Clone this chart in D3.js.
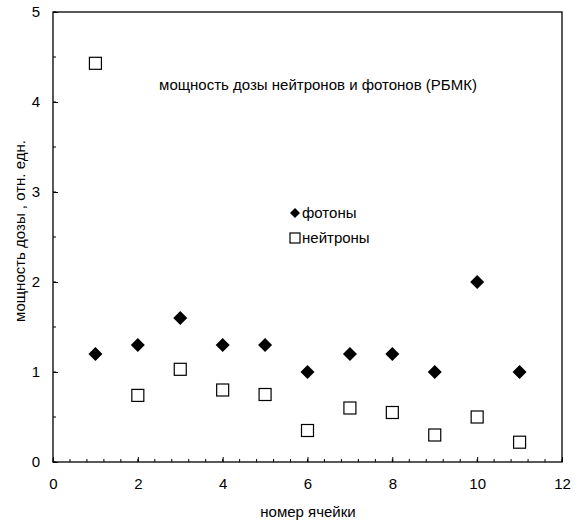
<!DOCTYPE html>
<html>
<head>
<meta charset="utf-8">
<script src="https://cdn.jsdelivr.net/npm/d3@7"></script>
<style>
body { margin: 0; background: #fff; }
svg { font-family: 'Liberation Sans', Arial, sans-serif; }
</style>
</head>
<body>
<svg id="svg1" width="576" height="523"></svg>
<script>
var cells = [1, 2, 3, 4, 5, 6, 7, 8, 9, 10, 11];
var photons = [1.2, 1.3, 1.6, 1.3, 1.3, 1.0, 1.2, 1.2, 1.0, 2.0, 1.0];
var neutrons = [4.43, 0.74, 1.03, 0.80, 0.75, 0.35, 0.60, 0.55, 0.30, 0.50, 0.22];
var xTicks = [0, 2, 4, 6, 8, 10, 12];
var yTicks = [0, 1, 2, 3, 4, 5];

var marginLeft = 53;
var marginTop = 12;
var plotW = 509;
var plotH = 450;

var svg = d3.select('#svg1');

var x = d3.scaleLinear().domain([0, 12]).range([marginLeft, marginLeft + plotW]);
var y = d3.scaleLinear().domain([0, 5]).range([marginTop + plotH, marginTop]);

// frame
svg.append('rect')
    .attr('x', marginLeft)
    .attr('y', marginTop)
    .attr('width', plotW)
    .attr('height', plotH)
    .attr('fill', 'none')
    .attr('stroke', '#000')
    .attr('stroke-width', 1.3);

// minor ticks x (every 0.4)
var xMinor = d3.range(0, 12.01, 0.4);
svg.selectAll('.xminor')
    .data(xMinor)
    .enter()
    .append('line')
    .attr('x1', function(d){ return x(d); })
    .attr('x2', function(d){ return x(d); })
    .attr('y1', y(0))
    .attr('y2', y(0) - 3)
    .attr('stroke', '#000');

// x axis
var xAxis = d3.axisBottom(x).tickValues(xTicks).tickSize(-5).tickPadding(16).tickFormat(d3.format('d'));
svg.append('g')
    .attr('transform', 'translate(0,' + y(0) + ')')
    .call(xAxis)
    .call(function(g){
        g.select('.domain').remove();
        g.attr('font-size', null).attr('font-family', null);
        g.selectAll('text').style('font-size', '15px');
    });

// minor ticks y (every 0.5)
var yMinor = d3.range(0, 5.01, 0.5);
svg.selectAll('.yminor')
    .data(yMinor)
    .enter()
    .append('line')
    .attr('x1', x(0))
    .attr('x2', x(0) + 3)
    .attr('y1', function(d){ return y(d); })
    .attr('y2', function(d){ return y(d); })
    .attr('stroke', '#000');

var yAxis = d3.axisLeft(y).tickValues(yTicks).tickSize(-5).tickPadding(13).tickFormat(d3.format('d'));
svg.append('g')
    .attr('transform', 'translate(' + x(0) + ',0)')
    .call(yAxis)
    .call(function(g){
        g.select('.domain').remove();
        g.attr('font-size', null).attr('font-family', null);
        g.selectAll('text').style('font-size', '15px');
    });

// neutrons (squares)
svg.selectAll('.neut')
    .data(cells)
    .enter()
    .append('rect')
    .attr('x', function(d, i){ return x(d) - 6; })
    .attr('y', function(d, i){ return y(neutrons[i]) - 6; })
    .attr('width', 12)
    .attr('height', 12)
    .attr('fill', '#fff')
    .attr('stroke', '#000')
    .attr('stroke-width', 1.2);

// photons (diamonds)
var diamond = 'M0,-7L7,0L0,7L-7,0Z';
svg.selectAll('.phot')
    .data(cells)
    .enter()
    .append('path')
    .attr('d', diamond)
    .attr('transform', function(d, i){ return 'translate(' + x(d) + ',' + y(photons[i]) + ')'; })
    .attr('fill', '#000');

// title
svg.append('text')
    .attr('x', 318)
    .attr('y', 90)
    .attr('text-anchor', 'middle')
    .style('font-size', '15px')
    .text('мощность дозы нейтронов и фотонов (РБМК)');

// legend
svg.append('path')
    .attr('d', 'M0,-5L5,0L0,5L-5,0Z')
    .attr('transform', 'translate(295,213)')
    .attr('fill', '#000');
svg.append('text')
    .attr('x', 302)
    .attr('y', 218)
    .style('font-size', '15px')
    .text('фотоны');
svg.append('rect')
    .attr('x', 290)
    .attr('y', 233)
    .attr('width', 10)
    .attr('height', 10)
    .attr('fill', '#fff')
    .attr('stroke', '#000')
    .attr('stroke-width', 1.2);
svg.append('text')
    .attr('x', 302)
    .attr('y', 243)
    .style('font-size', '15px')
    .text('нейтроны');

// axis labels
svg.append('text')
    .attr('x', 308)
    .attr('y', 517)
    .attr('text-anchor', 'middle')
    .style('font-size', '15px')
    .text('номер ячейки');

svg.append('text')
    .attr('transform', 'translate(25,231) rotate(-90)')
    .attr('text-anchor', 'middle')
    .style('font-size', '15px')
    .text('мощность дозы , отн. едн.');
</script>
</body>
</html>
